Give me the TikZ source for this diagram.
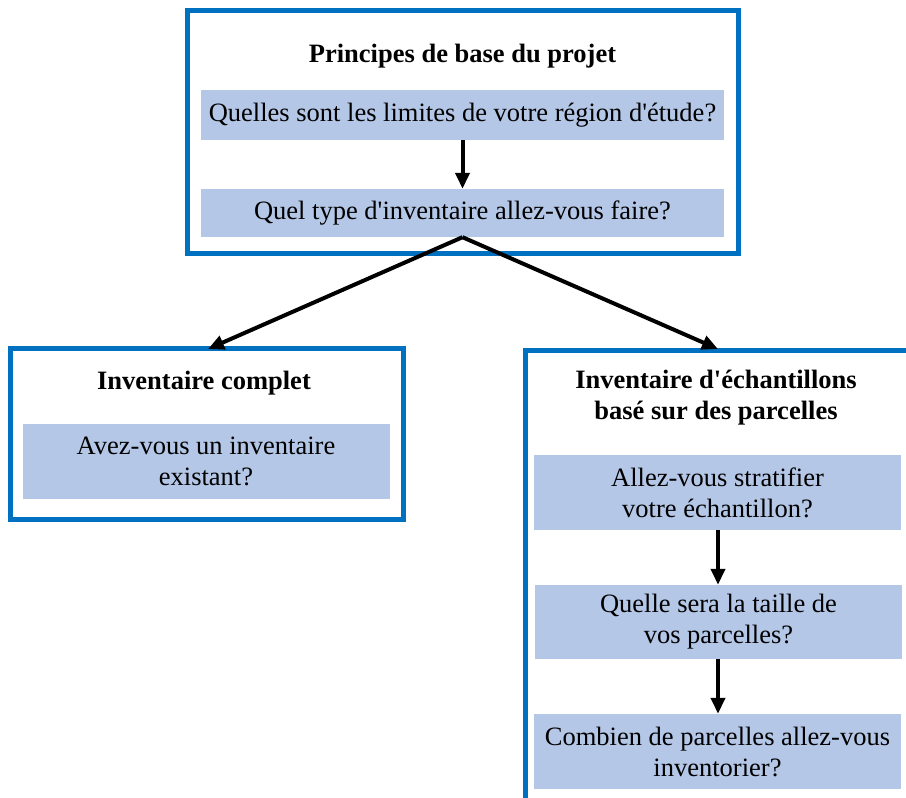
\documentclass[tikz,border=0pt]{standalone}
\usepackage{fontspec}
\setmainfont{Liberation Serif}
\usetikzlibrary{arrows.meta}
\definecolor{boxblue}{RGB}{0,112,192}
\definecolor{fillblue}{RGB}{180,199,231}
\newcommand{\apos}{\textquotesingle}
\tikzset{
  outerbox/.style={draw=boxblue, line width=5pt, inner sep=0pt},
  fillbox/.style={fill=fillblue, draw=none, inner sep=0pt, align=center},
  titletext/.style={font=\fontsize{26.5}{31}\selectfont\bfseries, align=center, anchor=base, inner sep=0pt},
  arr/.style={-{Triangle[length=16pt,width=14pt]}, line width=4pt, black},
}
\begin{document}
\begin{tikzpicture}[x=1pt,y=-1pt, font=\fontsize{26.5}{31}\selectfont]
\useasboundingbox (0,0) rectangle (906,798);
\clip (0,0) rectangle (906,798);
% top box
\node[outerbox, minimum width=551pt, minimum height=243pt] (top) at (463,132) {};
\node[titletext] (toptitle) at (462.5,62) {Principes de base du projet};
\node[fillbox, minimum width=523pt, minimum height=50pt] (q1) at (462.5,115) {Quelles sont les limites de votre région d\apos étude?};
\node[fillbox, minimum width=523pt, minimum height=48pt] (q2) at (462.5,213) {Quel type d\apos inventaire allez-vous faire?};
\draw[arr] (q1.south) -- (q2.north);
% left box
\node[outerbox, minimum width=393pt, minimum height=171pt] (lb) at (206.7,433.5) {};
\node[titletext] (ltitle) at (204,389) {Inventaire complet};
\node[fillbox, minimum width=367pt, minimum height=75pt] (l1) at (206,461.5) {Avez-vous un inventaire\\existant?};
% right box
\node[outerbox, anchor=north west, minimum width=400pt, minimum height=470pt] (rb) at (522.7,348) {};
\node[titletext] (rtitle) at (716,419) {Inventaire d\apos échantillons\\basé sur des parcelles};
\node[fillbox, minimum width=367pt, minimum height=75pt] (r1) at (717.5,492.5) {Allez-vous stratifier\\votre échantillon?};
\node[fillbox, minimum width=367pt, minimum height=74pt] (r2) at (718.5,622) {Quelle sera la taille de\\vos parcelles?};
\node[fillbox, minimum width=367pt, minimum height=75pt] (r3) at (717.5,751.5) {Combien de parcelles allez-vous\\inventorier?};
\draw[arr] (r1.south -| 718,0) -- (r2.north -| 718,0);
\draw[arr] (r2.south -| 718,0) -- (r3.north -| 718,0);
% branch arrows
\coordinate (lt) at (208,349);
\coordinate (rt) at (718,349);
\draw[arr] (q2.south) -- (lt);
\draw[arr] (q2.south) -- (rt);
\end{tikzpicture}
\end{document}
